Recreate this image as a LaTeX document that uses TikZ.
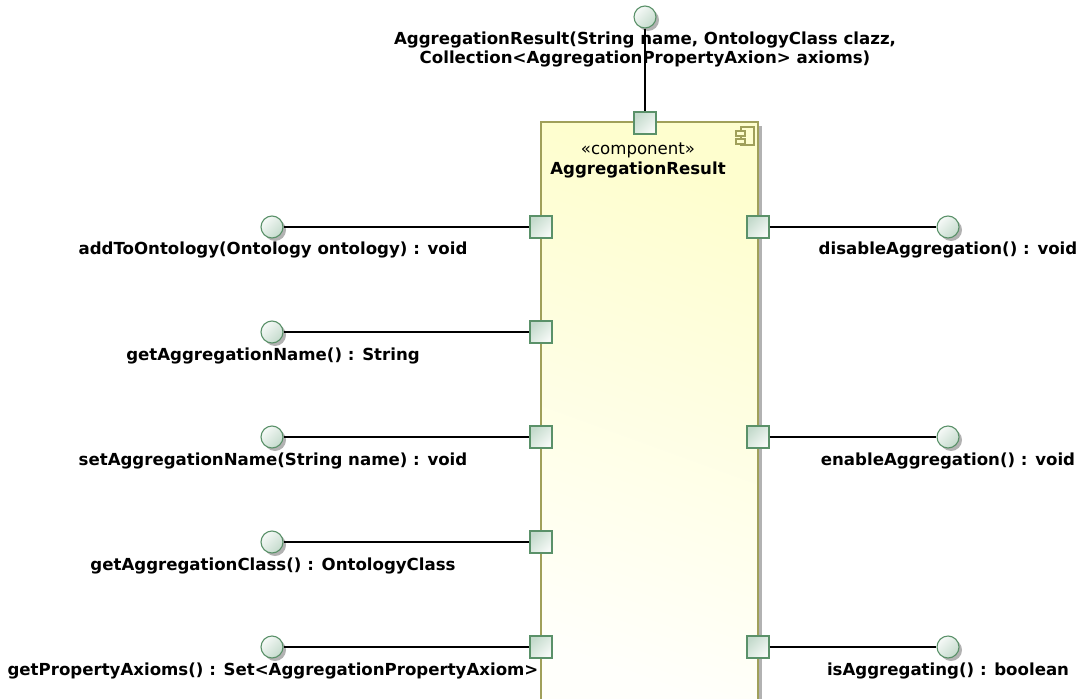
\documentclass[tikz,border=0pt]{standalone}
\usepackage{fontspec}
\setmainfont{DejaVu Sans}
\begin{document}
\definecolor{compfill}{RGB}{254,254,206}
\definecolor{compborder}{RGB}{160,160,90}
\definecolor{portborder}{RGB}{90,145,105}
\definecolor{portfill}{RGB}{196,218,204}
\definecolor{shadowgray}{RGB}{178,178,178}
\begin{tikzpicture}[x=1pt,y=-1pt,
  every node/.style={font=\fontsize{16.6}{19.5}\selectfont\bfseries, inner sep=0pt},
  port/.style={draw=portborder, line width=1.1pt, minimum size=22pt, shading=axis,
    left color=portfill, right color=white!85!portfill, shading angle=45},
  iface/.style={circle, draw=portborder, line width=1.1pt, minimum size=22pt, shading=axis,
    left color=white!85!portfill, right color=portfill, shading angle=45},
  ishadow/.style={circle, fill=shadowgray, minimum size=22pt},
  wire/.style={line width=1.1pt, black},
  lbl/.style={align=center}
]
\useasboundingbox (0,0) rectangle (1083,698);
\clip (0,0) rectangle (1083,698);

% component body with its shadow
\fill[shadowgray] (545,126) rectangle (762,720);
\shade[shading=axis, top color=compfill, bottom color=white!92!compfill, shading angle=-20]
  (541,122) rectangle (758,720);
\draw[compborder, line width=1.1pt] (541,720) -- (541,122) -- (758,122) -- (758,720);

% component icon
\begin{scope}[compborder, line width=1.1pt]
  \draw[fill=compfill] (741,127) rectangle (754,145);
  \draw[fill=compfill] (736,131) rectangle (745,136);
  \draw[fill=compfill] (736,139) rectangle (745,144);
\end{scope}

\node[font=\fontsize{16.6}{19.5}\selectfont] (stereo) at (638,150) {«component»};
\node (cname) at (638,170) {AggregationResult};

% interface lollipops (shadows first)
\foreach \x/\y in {645/17, 272/227, 272/332, 272/437, 272/542, 272/647, 948/227, 948/437, 948/647}
  \node[ishadow] at (\x+3,\y+3) {};

\node[iface] (iTop) at (645,17) {};
\node[iface] (iL1) at (272,227) {};
\node[iface] (iL2) at (272,332) {};
\node[iface] (iL3) at (272,437) {};
\node[iface] (iL4) at (272,542) {};
\node[iface] (iL5) at (272,647) {};
\node[iface] (iR1) at (948,227) {};
\node[iface] (iR2) at (948,437) {};
\node[iface] (iR3) at (948,647) {};

% ports on the component border
\node[port] (pTop) at (645,123) {};
\node[port] (pL1) at (541,227) {};
\node[port] (pL2) at (541,332) {};
\node[port] (pL3) at (541,437) {};
\node[port] (pL4) at (541,542) {};
\node[port] (pL5) at (541,647) {};
\node[port] (pR1) at (758,227) {};
\node[port] (pR2) at (758,437) {};
\node[port] (pR3) at (758,647) {};

% connectors
\draw[wire] (iTop) -- (pTop);
\draw[wire] (iL1) -- (pL1);
\draw[wire] (iL2) -- (pL2);
\draw[wire] (iL3) -- (pL3);
\draw[wire] (iL4) -- (pL4);
\draw[wire] (iL5) -- (pL5);
\draw[wire] (pR1) -- (iR1);
\draw[wire] (pR2) -- (iR2);
\draw[wire] (pR3) -- (iR3);

% labels
\node[lbl] (tTop) at (645,49.5) {AggregationResult(String name, OntologyClass clazz,\\Collection<AggregationPropertyAxion> axioms)};
\node (tL1) at (273,250) {addToOntology(Ontology ontology) : void};
\node (tL2) at (273,356) {getAggregationName() : String};
\node (tL3) at (273,461) {setAggregationName(String name) : void};
\node (tL4) at (273,566) {getAggregationClass() : OntologyClass};
\node (tL5) at (273,671) {getPropertyAxioms() : Set<AggregationPropertyAxiom>};
\node (tR1) at (948,250) {disableAggregation() : void};
\node (tR2) at (948,461) {enableAggregation() : void};
\node (tR3) at (948,671) {isAggregating() : boolean};
\end{tikzpicture}
\end{document}
